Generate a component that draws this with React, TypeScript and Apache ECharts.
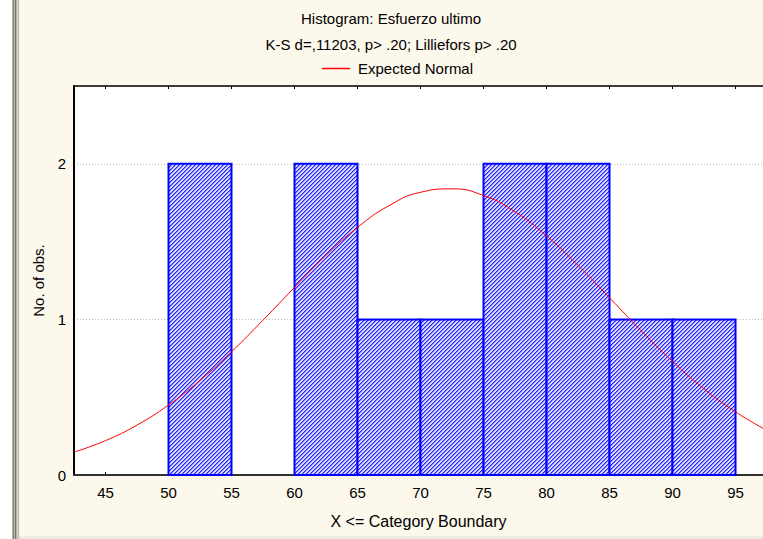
import React, { useEffect, useRef } from "react";
import * as echarts from "echarts";

const titleText = "Histogram: Esfuerzo ultimo";
const subtitleText = "K-S d=,11203, p> .20; Lilliefors p> .20";
const legendName = "Expected Normal";
const xAxisName = "X <= Category Boundary";
const yAxisName = "No. of obs.";

// histogram bins (lower, upper) and counts
const binLower = [50, 55, 60, 65, 70, 75, 80, 85, 90];
const binUpper = [55, 60, 65, 70, 75, 80, 85, 90, 95];
const binCounts = [2, 0, 2, 1, 1, 2, 2, 1, 1];

// expected normal curve
const normalX = [42.5, 45, 47.5, 50, 52.5, 55, 57.5, 60, 62.5, 65, 67.5, 70, 72.5, 75, 77.5, 80, 82.5, 85, 87.5, 90, 92.5, 95, 97.5];
const normalY = [0.147, 0.221, 0.321, 0.45, 0.608, 0.792, 0.995, 1.206, 1.411, 1.591, 1.731, 1.817, 1.839, 1.796, 1.692, 1.537, 1.347, 1.139, 0.928, 0.73, 0.554, 0.406, 0.286];

const xTicks = [45, 50, 55, 60, 65, 70, 75, 80, 85, 90, 95];
const xMin = 42.5;
const xMax = 97.18;
const yMin = 0;
const yMax = 2.5;
const yStep = 1;

const FONT = "'Liberation Sans', Arial, sans-serif";
const FS = 15;

// 4x4 hatch tile: "/" diagonal stripes in blue
const C1 = "#2020ff";
const C2 = "#8080ff";
const C0 = "#dcdcff";
const hatchTileSvg =
  "<svg xmlns='http://www.w3.org/2000/svg' width='4' height='4' shape-rendering='crispEdges'>" +
  `<rect width='4' height='4' fill='${C0}'/>` +
  `<rect x='3' y='0' width='1' height='1' fill='${C1}'/><rect x='0' y='0' width='1' height='1' fill='${C2}'/>` +
  `<rect x='2' y='1' width='1' height='1' fill='${C1}'/><rect x='3' y='1' width='1' height='1' fill='${C2}'/>` +
  `<rect x='1' y='2' width='1' height='1' fill='${C1}'/><rect x='2' y='2' width='1' height='1' fill='${C2}'/>` +
  `<rect x='0' y='3' width='1' height='1' fill='${C1}'/><rect x='1' y='3' width='1' height='1' fill='${C2}'/>` +
  "</svg>";
const hatchUrl = "data:image/svg+xml;charset=utf-8," + encodeURIComponent(hatchTileSvg);

export default function App() {
  const ref = useRef<HTMLDivElement>(null);
  useEffect(() => {
    if (!ref.current) return;
    const chart = echarts.init(ref.current, null, { renderer: "svg" });
    const barData = binLower.map((lo, i) => [lo, binUpper[i], binCounts[i]]);
    const lineData = normalX.map((x, i) => [x, normalY[i]]);
    const option: any = {
      animation: false,
      backgroundColor: "transparent",
      textStyle: { fontFamily: FONT },
      graphic: [
        { type: "rect", z: -10, silent: true, shape: { x: 19, y: 0, width: 744, height: 536 }, style: { fill: "#fdf8ec" } },
        { type: "rect", z: -10, silent: true, shape: { x: 19, y: 536, width: 744, height: 3 }, style: { fill: "#eeebe2" } },
        { type: "rect", z: -10, silent: true, shape: { x: 12, y: 0, width: 7, height: 539 }, style: { fill: "#b8b4a6" } },
        { type: "rect", z: -10, silent: true, shape: { x: 13, y: 0, width: 1, height: 539 }, style: { fill: "#8a877c" } },
        { type: "rect", z: -10, silent: true, shape: { x: 15, y: 0, width: 1, height: 539 }, style: { fill: "#7a776d" } },
        { type: "rect", z: -10, silent: true, shape: { x: 17, y: 0, width: 1, height: 539 }, style: { fill: "#d8d5c9" } },
      ],
      title: [
        { text: titleText, left: 386, top: 6, textAlign: "center", textStyle: { fontFamily: FONT, fontSize: FS, fontWeight: "normal", color: "#000" } },
        { text: subtitleText, left: 386, top: 32, textAlign: "center", textStyle: { fontFamily: FONT, fontSize: FS, fontWeight: "normal", color: "#000" } },
      ],
      legend: {
        data: [{ name: legendName, icon: "rect" }],
        left: 317,
        top: 56,
        itemWidth: 28,
        itemHeight: 1.5,
        itemGap: 8,
        textStyle: { fontFamily: FONT, fontSize: FS, color: "#000", padding: [0, 0, 0, 3] },
      },
      grid: { left: 74, top: 86, right: 0, bottom: 64, show: true, backgroundColor: "#ffffff", borderWidth: 0 },
      xAxis: [
        {
          type: "value",
          min: xMin,
          max: xMax,
          name: xAxisName,
          nameLocation: "middle",
          nameGap: 38,
          nameTextStyle: { fontFamily: FONT, fontSize: 16, color: "#000" },
          axisLine: { show: true, lineStyle: { color: "#333", width: 2 } },
          axisTick: { show: true, inside: true, length: 3, customValues: xTicks, lineStyle: { color: "#000" } },
          axisLabel: { customValues: xTicks, fontFamily: FONT, fontSize: FS, color: "#000", margin: 10 },
          splitLine: { show: false },
        },
        {
          type: "value",
          position: "top",
          min: xMin,
          max: xMax,
          axisLine: { show: true, lineStyle: { color: "#000", width: 1.5 } },
          axisTick: { show: true, inside: true, length: 3, customValues: xTicks, lineStyle: { color: "#000" } },
          axisLabel: { show: false },
          splitLine: { show: false },
        },
      ],
      yAxis: {
        type: "value",
        min: yMin,
        max: yMax,
        interval: yStep,
        name: yAxisName,
        nameLocation: "middle",
        nameGap: 28,
        nameRotate: 90,
        nameTextStyle: { fontFamily: FONT, fontSize: FS, color: "#000" },
        axisLine: { show: true, lineStyle: { color: "#000", width: 2 } },
        axisTick: { show: false },
        axisLabel: {
          fontFamily: FONT,
          fontSize: FS,
          color: "#000",
          margin: 8,
          formatter: (v: number) => (Number.isInteger(v) ? String(v) : ""),
        },
        splitLine: { show: true, lineStyle: { type: [1, 2], color: "#b8b8b8", width: 1 } },
      },
      series: [
        {
          type: "custom",
          name: "bins",
          xAxisIndex: 0,
          yAxisIndex: 0,
          z: 2,
          data: barData,
          encode: { x: [0, 1], y: 2 },
          itemStyle: { color: "#0000ff", borderColor: "#0000ff" },
          renderItem: (params: any, api: any) => {
            const lo = api.value(0);
            const hi = api.value(1);
            const n = api.value(2);
            if (!n) return null;
            const p0 = api.coord([lo, n]);
            const p1 = api.coord([hi, 0]);
            const x0 = p0[0];
            const y0 = p0[1];
            const w = p1[0] - p0[0];
            const h = p1[1] - p0[1];
            return {
              type: "group",
              children: [
                {
                  type: "rect",
                  shape: { x: x0, y: y0, width: w, height: h },
                  style: {
                    fill: { image: hatchUrl, repeat: "repeat", imageWidth: 4, imageHeight: 4 },
                    stroke: null,
                  },
                },
                {
                  type: "rect",
                  shape: { x: x0, y: y0, width: w, height: h },
                  style: { fill: null, stroke: "#0000ff", lineWidth: 2 },
                },
              ],
            };
          },
        },
        {
          type: "line",
          name: legendName,
          xAxisIndex: 0,
          data: lineData,
          smooth: true,
          showSymbol: false,
          symbol: "none",
          clip: true,
          z: 3,
          lineStyle: { color: "#ff0000", width: 1 },
          itemStyle: { color: "#ff0000" },
        },
      ],
    };
    chart.setOption(option);
    return () => chart.dispose();
  }, []);
  return (
    <div
      ref={ref}
      style={{ position: "absolute", left: 0, top: 0, width: 763, height: 539 }}
    />
  );
}
